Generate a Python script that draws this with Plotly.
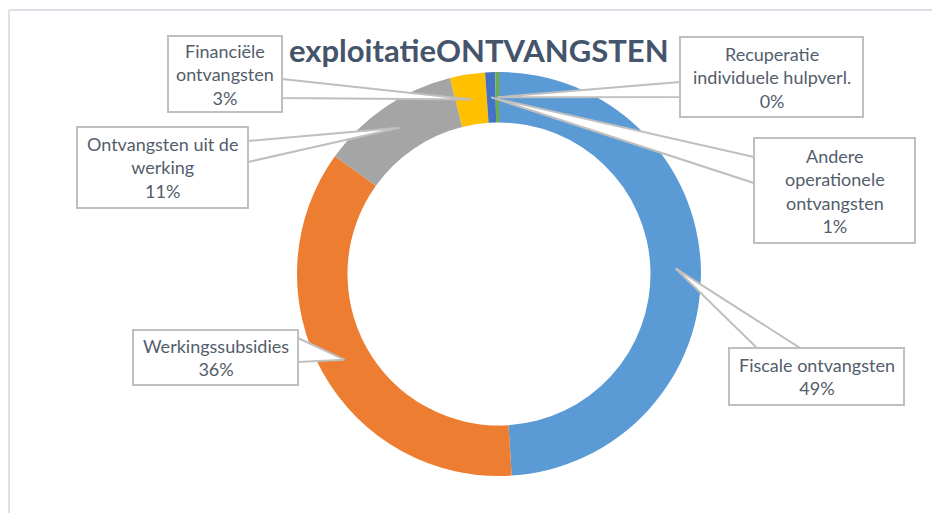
import math
import plotly.graph_objects as go

# Data
labels = ["Fiscale ontvangsten", "Werkingssubsidies", "Ontvangsten uit de werking",
          "Financiële ontvangsten", "Andere operationele ontvangsten",
          "Recuperatie individuele hulpverl."]
values = [49.0, 35.9, 11.2, 2.8, 0.8, 0.3]
colors = ["#5B9BD5", "#ED7D31", "#A5A5A5", "#FFC000", "#4472C4", "#70AD47"]

# page has an 8px body margin, so the figure is placed at (8, 8)
OFF = 8
W, H = 924, 505
CX, CY, R_OUT, HOLE = 499, 274, 202, 0.75
R_TIP = R_OUT * (1 + HOLE) / 2

# callout layout: wrapped text, box (left, top, right, bottom), wedge base points
callouts = {
    "Fiscale ontvangsten": dict(text="Fiscale ontvangsten", box=(729, 348, 904, 405),
                                base=[(757, 348), (800, 348)]),
    "Werkingssubsidies": dict(text="Werkingssubsidies", box=(133, 330, 298, 385),
                              base=[(298, 338), (298, 362)]),
    "Ontvangsten uit de werking": dict(text="Ontvangsten uit de<br>werking", box=(77, 127, 248, 208),
                                       base=[(248, 141), (248, 162)]),
    "Financiële ontvangsten": dict(text="Financiële<br>ontvangsten", box=(168, 36, 282, 112),
                                   base=[(282, 79), (282, 98)]),
    "Andere operationele ontvangsten": dict(text="Andere<br>operationele<br>ontvangsten",
                                            box=(754, 138, 915, 243),
                                            base=[(754, 157), (754, 183)]),
    "Recuperatie individuele hulpverl.": dict(text="Recuperatie<br>individuele hulpverl.",
                                              box=(680, 37, 863, 117),
                                              base=[(680, 82), (680, 97)]),
}


def px(x):
    return (x - OFF) / W


def py(y):
    return 1 - (y - OFF) / H


fig = go.Figure(go.Pie(
    labels=labels, values=values, hole=HOLE, sort=False,
    direction="clockwise", rotation=0, textinfo="none",
    marker=dict(colors=colors, line=dict(width=0)),
    domain=dict(x=[px(CX - R_OUT), px(CX + R_OUT)], y=[py(CY + R_OUT), py(CY - R_OUT)]),
    showlegend=False,
))

shapes = [
    dict(type="line", xref="paper", yref="paper", x0=px(9), x1=1, y0=py(10), y1=py(10),
         line=dict(color="#DCE1E8", width=2)),
    dict(type="line", xref="paper", yref="paper", x0=px(9), x1=px(9), y0=py(10), y1=0,
         line=dict(color="#DCE1E8", width=2)),
]
annotations = []
total = sum(values)
cum = 0
for lab, v in zip(labels, values):
    mid = (cum + v / 2) / total * 2 * math.pi
    cum += v
    tx = CX + R_TIP * math.sin(mid)
    ty = CY - R_TIP * math.cos(mid)
    c = callouts[lab]
    (b1x, b1y), (b2x, b2y) = c["base"]
    path = (f"M {px(b1x)},{py(b1y)} L {px(tx)},{py(ty)} L {px(b2x)},{py(b2y)} Z")
    shapes.append(dict(type="path", xref="paper", yref="paper", path=path,
                       fillcolor="white", line=dict(color="#BFBFBF", width=2), layer="above"))
    l, t, r, b = c["box"]
    shapes.append(dict(type="rect", xref="paper", yref="paper",
                       x0=px(l), x1=px(r), y0=py(b), y1=py(t),
                       fillcolor="white", line=dict(color="#BFBFBF", width=2), layer="above"))
    pct = round(v / total * 100)
    annotations.append(dict(
        x=px((l + r) / 2), y=py((t + b) / 2), xref="paper", yref="paper",
        xanchor="center", yanchor="middle",
        text=f"{c['text']}<br>{pct}%", showarrow=False, align="center",
        font=dict(family="Lato", size=18, color="#535D6B"),
    ))

annotations.append(dict(
    x=px(479), y=py(50), xref="paper", yref="paper", showarrow=False,
    xanchor="center", yanchor="middle",
    text="<b>exploitatieONTVANGSTEN</b>",
    font=dict(family="Lato", size=31, color="#44546A"),
))

fig.update_layout(
    width=W, height=H, margin=dict(l=0, r=0, t=0, b=0),
    paper_bgcolor="white", plot_bgcolor="white",
    shapes=shapes, annotations=annotations,
)

fig.write_html("out.html")
